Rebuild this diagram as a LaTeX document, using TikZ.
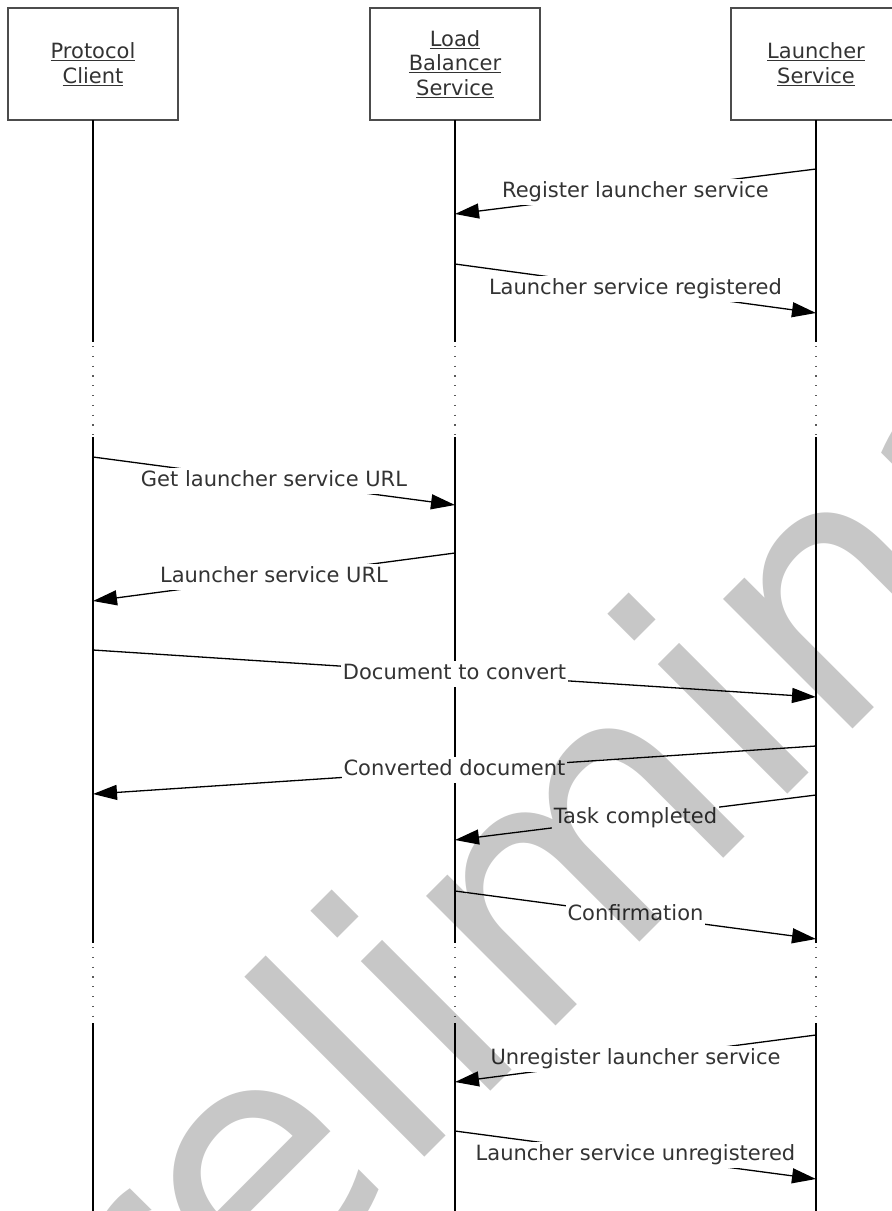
\documentclass[tikz,border=0pt]{standalone}
\usepackage{fontspec}
\setmainfont{DejaVu Sans}
\usetikzlibrary{arrows.meta}
\begin{document}
\begin{tikzpicture}[x=1pt,y=-1pt,
  hdr/.style={draw=black!70, line width=1.5pt, minimum width=170pt, minimum height=112pt,
    align=center, font=\fontsize{21}{24.5}\selectfont, text=black!80, inner sep=0pt},
  life/.style={line width=1.3pt, black},
  lifedot/.style={line width=1.1pt, black!65, dash pattern=on 1.2pt off 8.6pt},
  msg/.style={line width=1.3pt, black, -{Triangle[length=24pt,width=15pt]}},
  lbl/.style={fill=white, inner xsep=1.5pt, inner ysep=2.5pt, text height=16pt,
    text depth=5pt, font=\fontsize{21}{24}\selectfont, text=black!80},
  wmark/.style={anchor=base west, inner sep=0pt, rotate=45,
    font=\fontsize{335}{335}\selectfont, text=black, text opacity=0.22}
]
\useasboundingbox (0,0) rectangle (892,1211);
\clip (0,0) rectangle (892,1211);

% header boxes
\node[hdr] (pc) at (93,64) {\underline{Protocol}\\\underline{Client}};
\node[hdr] (lb) at (455,64) {\underline{Load}\\\underline{Balancer}\\\underline{Service}};
\node[hdr] (ls) at (816,64) {\underline{Launcher}\\\underline{Service}};

% lifelines
\foreach \x in {93,455,816}{
  \draw[life] (\x,120) -- (\x,342);
  \draw[lifedot] (\x,346) -- (\x,437);
  \draw[life] (\x,437) -- (\x,943);
  \draw[lifedot] (\x,947) -- (\x,1023);
  \draw[life] (\x,1023) -- (\x,1212);
}

% message end points
\coordinate (m1a) at (816,169);  \coordinate (m1b) at (455,214);
\coordinate (m2a) at (455,264);  \coordinate (m2b) at (816,313);
\coordinate (m3a) at (93,457);   \coordinate (m3b) at (455,505);
\coordinate (m4a) at (455,553);  \coordinate (m4b) at (93,601);
\coordinate (m5a) at (93,650);   \coordinate (m5b) at (816,697);
\coordinate (m6a) at (816,746);  \coordinate (m6b) at (93,794);
\coordinate (m7a) at (816,795);  \coordinate (m7b) at (455,840);
\coordinate (m8a) at (455,891);  \coordinate (m8b) at (816,939);
\coordinate (m9a) at (816,1035); \coordinate (m9b) at (455,1082);
\coordinate (m10a) at (455,1131); \coordinate (m10b) at (816,1179);

\draw[msg] (m1a) -- node[lbl] (l1) {Register launcher service} (m1b);
\draw[msg] (m2a) -- node[lbl] (l2) {Launcher service registered} (m2b);
\draw[msg] (m3a) -- node[lbl] (l3) {Get launcher service URL} (m3b);
\draw[msg] (m4a) -- node[lbl] (l4) {Launcher service URL} (m4b);
\draw[msg] (m5a) -- node[lbl] (l5) {Document to convert} (m5b);
\draw[msg] (m6a) -- node[lbl] (l6) {Converted document} (m6b);
\draw[msg] (m7a) -- node[lbl] (l7) {Task completed} (m7b);
\draw[msg] (m8a) -- node[lbl] (l8) {Confirmation} (m8b);
\draw[msg] (m9a) -- node[lbl] (l9) {Unregister launcher service} (m9b);
\draw[msg] (m10a) -- node[lbl] (l10) {Launcher service unregistered} (m10b);

% watermark
\node[wmark] (wm) at (26,1556) {Preliminary};
\end{tikzpicture}
\end{document}
